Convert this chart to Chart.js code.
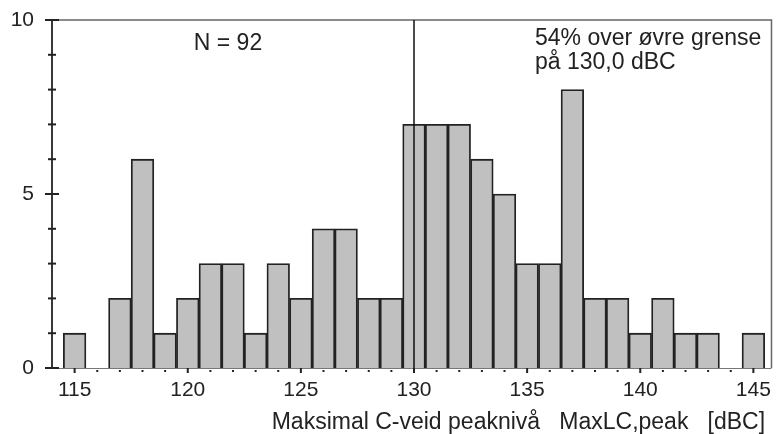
<!DOCTYPE html>
<html>
<head>
<meta charset="utf-8">
<script src="https://cdn.jsdelivr.net/npm/chart.js@4/dist/chart.umd.min.js"></script>
<style>
    html, body { margin: 0; padding: 0; background: #fff; }
    #wrap { width: 781px; height: 434px; }
</style>
</head>
<body>
<div id="wrap"><canvas id="chart"></canvas></div>
<script>
// level classes (dBC), one bar per integer
const levels = [115, 116, 117, 118, 119, 120, 121, 122, 123, 124, 125, 126, 127, 128, 129, 130,
    131, 132, 133, 134, 135, 136, 137, 138, 139, 140, 141, 142, 143, 144, 145];
const counts = [1, 0, 2, 6, 1, 2, 3, 3, 1, 3, 2, 4, 4, 2, 2, 7,
    7, 7, 6, 5, 3, 3, 8, 2, 2, 1, 2, 1, 1, 0, 1];
const xTicks = [115, 120, 125, 130, 135, 140, 145];
const yTicks = [0, 5, 10];
const limit = 130;
const noteN = 'N = 92';
const noteLimit = ['54% over øvre grense', 'på 130,0 dBC'];
const xTitle = 'Maksimal C-veid peaknivå   MaxLC,peak   [dBC] ';

const FONT = "'Liberation Sans', Arial, sans-serif";
const INK = '#222';

// frame, tick marks, limit line and notes
const decor = {
    id: 'decor',
    afterDatasetsDraw(chart) {
        const { ctx, chartArea: a, scales: { x, y } } = chart;
        ctx.save();

        // top and right frame
        ctx.strokeStyle = '#666';
        ctx.lineWidth = 1.5;
        ctx.beginPath();
        ctx.moveTo(a.left, a.top);
        ctx.lineTo(a.right, a.top);
        ctx.lineTo(a.right, a.bottom);
        ctx.stroke();

        // bottom axis line
        ctx.strokeStyle = '#777';
        ctx.lineWidth = 1;
        ctx.beginPath();
        ctx.moveTo(a.left, a.bottom + 0.5);
        ctx.lineTo(a.right, a.bottom + 0.5);
        ctx.stroke();

        // left axis line
        ctx.strokeStyle = INK;
        ctx.lineWidth = 1.8;
        ctx.beginPath();
        ctx.moveTo(a.left, a.top);
        ctx.lineTo(a.left, a.bottom);
        ctx.stroke();

        // y ticks: major cross further out
        for (let v = 0; v <= 10; v++) {
            const py = y.getPixelForValue(v);
            const major = yTicks.includes(v);
            ctx.lineWidth = 2;
            ctx.beginPath();
            ctx.moveTo(a.left - (major ? 7 : 4), py);
            ctx.lineTo(a.left + (major ? 7 : 4), py);
            ctx.stroke();
        }

        // x ticks: major short lines, minor dots
        levels.forEach(v => {
            const px = x.getPixelForValue(v);
            ctx.fillStyle = INK;
            if (xTicks.includes(v)) {
                ctx.fillRect(px - 1, a.bottom, 2, 5);
            } else {
                ctx.fillRect(px - 1, a.bottom + 2, 2, 2);
            }
        });

        // limit line
        const lx = x.getPixelForValue(limit);
        ctx.strokeStyle = '#111';
        ctx.lineWidth = 1.5;
        ctx.beginPath();
        ctx.moveTo(lx, a.top);
        ctx.lineTo(lx, a.bottom);
        ctx.stroke();

        // notes
        ctx.fillStyle = INK;
        ctx.font = '23px ' + FONT;
        ctx.textBaseline = 'middle';
        ctx.textAlign = 'center';
        ctx.fillText(noteN, 228, 44);
        ctx.textAlign = 'left';
        ctx.fillText(noteLimit[0], 535, 39);
        ctx.fillText(noteLimit[1], 535, 63);

        ctx.restore();
    }
};

new Chart(document.getElementById('chart'), {
    type: 'bar',
    data: {
        datasets: [{
            data: levels.map((lv, i) => ({ x: lv, y: counts[i] })),
            backgroundColor: '#c0c0c0',
            borderColor: INK,
            borderWidth: 1.8,
            borderSkipped: 'start',
            barPercentage: 1,
            categoryPercentage: 1
        }]
    },
    options: {
        responsive: true,
        maintainAspectRatio: false,
        animation: false,
        layout: { padding: { top: 20, right: 4, left: 0, bottom: 0 } },
        plugins: {
            legend: { display: false },
            tooltip: { enabled: false }
        },
        scales: {
            x: {
                type: 'linear',
                min: 114,
                max: 145.8,
                offset: false,
                grid: { display: false, drawTicks: false },
                border: { display: false },
                afterBuildTicks: s => { s.ticks = xTicks.map(v => ({ value: v })); },
                afterFit: s => { s.height = 66; },
                ticks: {
                    color: INK,
                    padding: 10,
                    maxRotation: 0,
                    font: { family: FONT, size: 21 }
                },
                title: {
                    display: true,
                    text: xTitle,
                    align: 'end',
                    color: INK,
                    padding: { top: 0, bottom: -2 },
                    font: { family: FONT, size: 23 }
                }
            },
            y: {
                min: 0,
                max: 10,
                grid: { display: false, drawTicks: false },
                border: { display: false },
                afterBuildTicks: s => { s.ticks = yTicks.map(v => ({ value: v })); },
                afterFit: s => {
                    s.width = 52;
                    s.paddingTop = 0;
                    s.paddingBottom = 0;
                },
                ticks: {
                    color: INK,
                    padding: 18,
                    font: { family: FONT, size: 21 }
                }
            }
        }
    },
    plugins: [decor]
});
</script>
</body>
</html>
